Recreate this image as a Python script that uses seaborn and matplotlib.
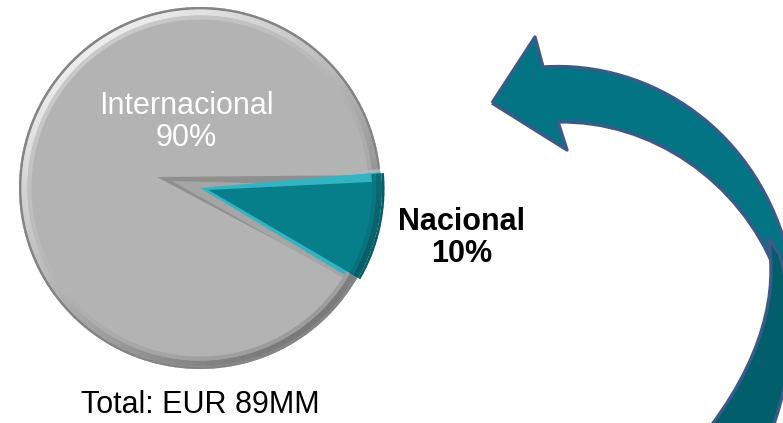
import numpy as np
import matplotlib
matplotlib.use('Agg')
import matplotlib.pyplot as plt
from matplotlib.path import Path
from matplotlib.patches import PathPatch, Wedge, Circle
from matplotlib.colors import to_rgb
import seaborn as sns

# Datos
segmentos = ['Nacional', 'Internacional']
porcentajes = [10, 90]
total_eur_mm = 89

# Estilo
sns.set_theme(style='white')
plt.rcParams['font.family'] = ['Liberation Sans', 'DejaVu Sans']

teal = '#077f8b'
gris = '#b3b3b3'

W, H = 783, 423
fig = plt.figure(figsize=(W / 100, H / 100), dpi=100)
ax = fig.add_axes([0, 0, 1, 1])

def py(y):
    # coordenadas en pixeles (origen arriba) -> ejes
    return H - y

def mezcla(c1, c2, t):
    a, b = np.array(to_rgb(c1)), np.array(to_rgb(c2))
    return tuple(a + (b - a) * t)

centro = (200, py(188))
radio = 181
inicio = -31
explode = [0.02, 0.0]
fin_teal = inicio + 360 * porcentajes[0] / sum(porcentajes)
medio = np.radians((inicio + fin_teal) / 2)

# Tarta base (gris); la porcion nacional se dibuja despues
ax.pie(porcentajes, colors=['#2fb0bf', gris], startangle=inicio, counterclock=True,
       center=centro, radius=radio, explode=explode,
       wedgeprops=dict(edgecolor='none', linewidth=0))

# Sombra del corte (bisel gris alrededor de la porcion)
clip = Circle(centro, radio, transform=ax.transData)
for cen, th1, th2, col in [((157, 177), -28, 0.5, '#8f8f8f'),
                           ((172, 181), -29.5, -1.5, '#a5a5a5')]:
    w = Wedge((cen[0], py(cen[1])), 232, th1, th2, facecolor=col, edgecolor='none')
    ax.add_patch(w)
    w.set_clip_path(clip)

# Porcion nacional encima, con bisel claro
ax.pie(porcentajes, colors=['#34b4c3', 'none'], startangle=inicio, center=centro,
       radius=radio, explode=explode, wedgeprops=dict(edgecolor='none'))
off = radio * explode[0] + 5
ax.add_patch(Wedge((centro[0] + off * np.cos(medio), centro[1] + off * np.sin(medio)),
                   radio - 8, inicio + 0.6, fin_teal - 2.2,
                   facecolor=teal, edgecolor='none'))

# Borde exterior iluminado (arriba-izquierda claro, abajo-derecha oscuro)
paso = 2
for a in np.arange(0, 360, paso):
    luz = 0.5 + 0.5 * np.cos(np.radians(a - 125))
    en_teal = inicio <= (a if a < 180 else a - 360) < fin_teal
    if en_teal:
        oscuro, claro, base = '#045862', '#2aa6b4', teal
        cx = centro[0] + radio * explode[0] * np.cos(medio)
        cy = centro[1] + radio * explode[0] * np.sin(medio)
    else:
        oscuro, claro, base = '#7a7a7a', '#ececec', gris
        cx, cy = centro
    a1 = max(a, inicio + 360 if a > 180 else inicio) if en_teal else a
    a2 = min(a + paso + 0.3, fin_teal) if en_teal and a < 180 else a + paso + 0.3
    ax.add_patch(Wedge((cx, cy), radio, a1, a2, width=2.5,
                       facecolor=mezcla(oscuro, '#056a75' if en_teal else '#9a9a9a', 0.3),
                       edgecolor='none'))
    ax.add_patch(Wedge((cx, cy), radio - 2.5, a1, a2, width=6,
                       facecolor=mezcla(oscuro, claro, luz), edgecolor='none'))
    ax.add_patch(Wedge((cx, cy), radio - 8.5, a1, a2, width=4,
                       facecolor=mezcla(mezcla(oscuro, claro, luz), base, 0.6),
                       edgecolor='none'))

# Etiquetas
ax.text(186, py(122), f'{segmentos[1]}\n{porcentajes[1]}%', color='white',
        fontsize=22, ha='center', va='center', linespacing=1.1)
ax.text(462, py(238), f'{segmentos[0]}\n{porcentajes[0]}%', color='black',
        fontsize=22, fontweight='bold', ha='center', va='center', linespacing=1.1)
ax.text(200, py(405), f'Total: EUR {total_eur_mm}MM', color='black',
        fontsize=22, ha='center', va='center')

# Flecha curva (decorativa)
borde = '#3b5a8a'
M, L, C = Path.MOVETO, Path.LINETO, Path.CURVE4
arriba = [
    (M, (492, 103)), (L, (535, 37)), (L, (543, 67)),
    (C, (650, 60)), (C, (760, 130)), (C, (790, 262)),
    (L, (776, 272)),
    (C, (740, 180)), (C, (650, 120)), (C, (558, 122)),
    (L, (567, 150)), (L, (492, 103)),
]
abajo = [
    (M, (768, 238)),
    (C, (778, 290)), (C, (765, 360)), (C, (700, 440)),
    (L, (768, 440)),
    (C, (792, 380)), (C, (797, 320)), (C, (780, 255)),
    (L, (768, 238)),
]
for partes, color in [(arriba, '#037483'), (abajo, '#015f6b')]:
    codes = [c for c, _ in partes]
    verts = [(x, py(y)) for _, (x, y) in partes]
    ax.add_patch(PathPatch(Path(verts, codes), facecolor=color, edgecolor=borde,
                           linewidth=2.4, joinstyle='round'))

ax.set_xlim(0, W)
ax.set_ylim(0, H)
ax.set_aspect('equal')
ax.axis('off')

fig.savefig('out.png', dpi=100)
